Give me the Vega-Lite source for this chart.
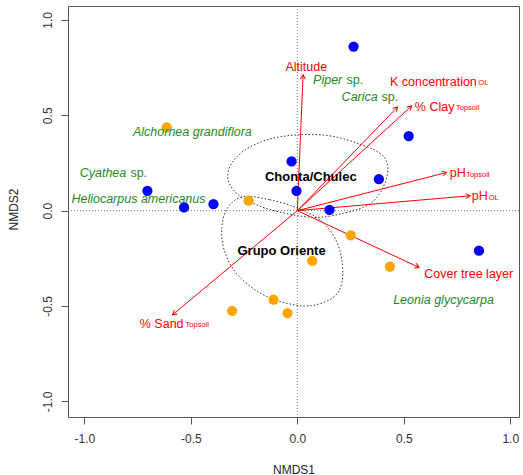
{
  "$schema": "https://vega.github.io/schema/vega-lite/v6.json",
  "width": 451,
  "height": 411,
  "autosize": {"type": "none"},
  "padding": {"left": 68, "top": 6, "right": 4, "bottom": 58},
  "background": "white",
  "config": {
    "view": {"stroke": "#555", "strokeWidth": 1},
    "font": "Liberation Sans",
    "axis": {"grid": false, "domain": false, "tickSize": 7, "tickColor": "#555", "labelFontSize": 12, "labelColor": "#333", "titleFontSize": 12, "titleFontWeight": "normal", "titleColor": "#222", "labelOverlap": false, "labelFlush": false}
  },
  "datasets": {
    "sites": [
      {"group": "Chonta/Chulec", "x": 0.264, "y": 0.860},
      {"group": "Chonta/Chulec", "x": 0.523, "y": 0.391},
      {"group": "Chonta/Chulec", "x": -0.027, "y": 0.258},
      {"group": "Chonta/Chulec", "x": 0.383, "y": 0.165},
      {"group": "Chonta/Chulec", "x": -0.004, "y": 0.104},
      {"group": "Chonta/Chulec", "x": 0.151, "y": 0.004},
      {"group": "Chonta/Chulec", "x": -0.704, "y": 0.104},
      {"group": "Chonta/Chulec", "x": -0.532, "y": 0.017},
      {"group": "Chonta/Chulec", "x": -0.394, "y": 0.034},
      {"group": "Chonta/Chulec", "x": 0.853, "y": -0.210},
      {"group": "Grupo Oriente", "x": -0.613, "y": 0.436},
      {"group": "Grupo Oriente", "x": -0.229, "y": 0.052},
      {"group": "Grupo Oriente", "x": 0.251, "y": -0.130},
      {"group": "Grupo Oriente", "x": 0.070, "y": -0.264},
      {"group": "Grupo Oriente", "x": 0.435, "y": -0.293},
      {"group": "Grupo Oriente", "x": -0.112, "y": -0.467},
      {"group": "Grupo Oriente", "x": -0.306, "y": -0.525},
      {"group": "Grupo Oriente", "x": -0.046, "y": -0.537}
    ],
    "vectors": [
      {"var": "Altitude", "x": 0.027, "y": 0.712},
      {"var": "K concentration OL", "x": 0.471, "y": 0.544},
      {"var": "% Clay Topsoil", "x": 0.537, "y": 0.549},
      {"var": "pH Topsoil", "x": 0.701, "y": 0.200},
      {"var": "pH OL", "x": 0.811, "y": 0.078},
      {"var": "Cover tree layer", "x": 0.572, "y": -0.298},
      {"var": "% Sand Topsoil", "x": -0.586, "y": -0.546}
    ],
    "ellipses": [
      {"group": "Chonta/Chulec", "i": 1, "x": -0.002, "y": 0.397},
      {"group": "Chonta/Chulec", "i": 2, "x": 0.153, "y": 0.392},
      {"group": "Chonta/Chulec", "i": 3, "x": 0.303, "y": 0.345},
      {"group": "Chonta/Chulec", "i": 4, "x": 0.397, "y": 0.293},
      {"group": "Chonta/Chulec", "i": 5, "x": 0.425, "y": 0.225},
      {"group": "Chonta/Chulec", "i": 6, "x": 0.402, "y": 0.120},
      {"group": "Chonta/Chulec", "i": 7, "x": 0.341, "y": 0.036},
      {"group": "Chonta/Chulec", "i": 8, "x": 0.223, "y": -0.012},
      {"group": "Chonta/Chulec", "i": 9, "x": 0.068, "y": -0.035},
      {"group": "Chonta/Chulec", "i": 10, "x": -0.129, "y": 0.006},
      {"group": "Chonta/Chulec", "i": 11, "x": -0.262, "y": 0.070},
      {"group": "Chonta/Chulec", "i": 12, "x": -0.322, "y": 0.150},
      {"group": "Chonta/Chulec", "i": 13, "x": -0.315, "y": 0.235},
      {"group": "Chonta/Chulec", "i": 14, "x": -0.250, "y": 0.315},
      {"group": "Chonta/Chulec", "i": 15, "x": -0.140, "y": 0.372},
      {"group": "Grupo Oriente", "i": 1, "x": -0.256, "y": 0.073},
      {"group": "Grupo Oriente", "i": 2, "x": -0.129, "y": 0.057},
      {"group": "Grupo Oriente", "i": 3, "x": -0.002, "y": 0.015},
      {"group": "Grupo Oriente", "i": 4, "x": 0.106, "y": -0.048},
      {"group": "Grupo Oriente", "i": 5, "x": 0.176, "y": -0.142},
      {"group": "Grupo Oriente", "i": 6, "x": 0.209, "y": -0.258},
      {"group": "Grupo Oriente", "i": 7, "x": 0.209, "y": -0.378},
      {"group": "Grupo Oriente", "i": 8, "x": 0.167, "y": -0.457},
      {"group": "Grupo Oriente", "i": 9, "x": 0.059, "y": -0.499},
      {"group": "Grupo Oriente", "i": 10, "x": -0.059, "y": -0.483},
      {"group": "Grupo Oriente", "i": 11, "x": -0.176, "y": -0.431},
      {"group": "Grupo Oriente", "i": 12, "x": -0.280, "y": -0.337},
      {"group": "Grupo Oriente", "i": 13, "x": -0.341, "y": -0.216},
      {"group": "Grupo Oriente", "i": 14, "x": -0.355, "y": -0.090},
      {"group": "Grupo Oriente", "i": 15, "x": -0.327, "y": 0.015}
    ],
    "labels": [
      {"kind": "envc", "label": "Altitude", "x": 0.042, "y": 0.754},
      {"kind": "envc", "label": "Cover tree layer", "x": 0.805, "y": -0.331},
      {"kind": "envl", "label": "K concentration", "x": 0.435, "y": 0.677},
      {"kind": "envl", "label": "% Clay", "x": 0.552, "y": 0.546},
      {"kind": "envl", "label": "pH", "x": 0.716, "y": 0.197},
      {"kind": "envl", "label": "pH", "x": 0.819, "y": 0.078},
      {"kind": "envl", "label": "% Sand", "x": -0.740, "y": -0.594},
      {"kind": "sub", "label": "OL", "x": 0.850, "y": 0.668},
      {"kind": "sub", "label": "Topsoil", "x": 0.745, "y": 0.537},
      {"kind": "sub", "label": "Topsoil", "x": 0.793, "y": 0.188},
      {"kind": "sub", "label": "OL", "x": 0.899, "y": 0.067},
      {"kind": "sub", "label": "Topsoil", "x": -0.525, "y": -0.600},
      {"kind": "spi", "label": "Piper", "x": 0.074, "y": 0.686},
      {"kind": "spi", "label": "Carica", "x": 0.208, "y": 0.598},
      {"kind": "spi", "label": "Alchornea grandiflora", "x": -0.772, "y": 0.412},
      {"kind": "spi", "label": "Cyathea", "x": -1.022, "y": 0.197},
      {"kind": "spi", "label": "Heliocarpus americanus", "x": -1.061, "y": 0.061},
      {"kind": "spi", "label": "Leonia glycycarpa", "x": 0.450, "y": -0.471},
      {"kind": "spr", "label": "sp.", "x": 0.231, "y": 0.686},
      {"kind": "spr", "label": "sp.", "x": 0.395, "y": 0.598},
      {"kind": "spr", "label": "sp.", "x": -0.784, "y": 0.197},
      {"kind": "grp", "label": "Chonta/Chulec", "x": 0.063, "y": 0.176},
      {"kind": "grp", "label": "Grupo Oriente", "x": -0.074, "y": -0.209}
    ]
  },
  "layer": [
    {
      "data": {"values": [{"v": 0}]},
      "mark": {"type": "rule", "color": "#777", "strokeDash": [1, 2], "strokeWidth": 1},
      "encoding": {
        "y": {"datum": 0, "type": "quantitative", "scale": {"domain": [-1.082, 1.073], "nice": false, "zero": false},
          "axis": {"values": [-1, -0.5, 0, 0.5, 1], "title": "NMDS2", "labelAngle": -90, "labelAlign": "center", "labelBaseline": "bottom", "labelPadding": 7,
            "labelExpr": "datum.value < 0 ? '-' + format(-datum.value, '.1f') : format(datum.value, '.1f')",
            "titleAngle": -90, "titleX": -55, "titleY": 203, "titleAlign": "center", "titleBaseline": "middle"}}
      }
    },
    {
      "data": {"values": [{"v": 0}]},
      "mark": {"type": "rule", "color": "#777", "strokeDash": [1, 2], "strokeWidth": 1},
      "encoding": {
        "x": {"datum": 0, "type": "quantitative", "scale": {"domain": [-1.077, 1.041], "nice": false, "zero": false},
          "axis": {"values": [-1, -0.5, 0, 0.5, 1], "title": "NMDS1", "labelPadding": 9, "labelBaseline": "top",
            "labelExpr": "datum.value < 0 ? '-' + format(-datum.value, '.1f') : format(datum.value, '.1f')",
            "titleY": 52, "titleBaseline": "middle"}}
      }
    },
    {
      "data": {"name": "ellipses"},
      "mark": {"type": "line", "interpolate": "cardinal-closed", "color": "#333", "strokeDash": [1.5, 2], "strokeWidth": 1},
      "encoding": {
        "x": {"field": "x", "type": "quantitative"},
        "y": {"field": "y", "type": "quantitative"},
        "detail": {"field": "group", "type": "nominal"},
        "order": {"field": "i", "type": "quantitative"}
      }
    },
    {
      "data": {"name": "vectors"},
      "mark": {"type": "rule", "color": "#FF0000", "strokeWidth": 1},
      "encoding": {
        "x": {"field": "x", "type": "quantitative"},
        "y": {"field": "y", "type": "quantitative"},
        "x2": {"datum": 0},
        "y2": {"datum": 0}
      }
    },
    {
      "data": {"name": "vectors"},
      "transform": [{"calculate": "atan2(datum.x * 212.8, datum.y * 190.85) * 180 / PI", "as": "ang"}],
      "mark": {"type": "point", "filled": false, "color": "#FF0000", "strokeWidth": 1, "opacity": 1, "shape": "M -0.5 0.87 L 0 0 L 0.5 0.87", "size": 100},
      "encoding": {
        "x": {"field": "x", "type": "quantitative"},
        "y": {"field": "y", "type": "quantitative"},
        "angle": {"field": "ang", "type": "quantitative", "scale": null}
      }
    },
    {
      "data": {"name": "sites"},
      "mark": {"type": "circle", "size": 105, "opacity": 1},
      "encoding": {
        "x": {"field": "x", "type": "quantitative"},
        "y": {"field": "y", "type": "quantitative"},
        "color": {"field": "group", "type": "nominal", "scale": {"domain": ["Chonta/Chulec", "Grupo Oriente"], "range": ["#0000FF", "#FFA500"]}, "legend": null}
      }
    },
    {
      "data": {"name": "labels"},
      "transform": [{"filter": "datum.kind == 'envc'"}],
      "mark": {"type": "text", "color": "#FF0000", "fontSize": 12.5, "align": "center", "baseline": "middle"},
      "encoding": {"x": {"field": "x", "type": "quantitative"}, "y": {"field": "y", "type": "quantitative"}, "text": {"field": "label", "type": "nominal"}}
    },
    {
      "data": {"name": "labels"},
      "transform": [{"filter": "datum.kind == 'envl'"}],
      "mark": {"type": "text", "color": "#FF0000", "fontSize": 12.5, "align": "left", "baseline": "middle"},
      "encoding": {"x": {"field": "x", "type": "quantitative"}, "y": {"field": "y", "type": "quantitative"}, "text": {"field": "label", "type": "nominal"}}
    },
    {
      "data": {"name": "labels"},
      "transform": [{"filter": "datum.kind == 'sub'"}],
      "mark": {"type": "text", "color": "#FF0000", "fontSize": 7.5, "align": "left", "baseline": "middle"},
      "encoding": {"x": {"field": "x", "type": "quantitative"}, "y": {"field": "y", "type": "quantitative"}, "text": {"field": "label", "type": "nominal"}}
    },
    {
      "data": {"name": "labels"},
      "transform": [{"filter": "datum.kind == 'spi'"}],
      "mark": {"type": "text", "color": "#1E8A1E", "fontSize": 12.5, "fontStyle": "italic", "align": "left", "baseline": "middle"},
      "encoding": {"x": {"field": "x", "type": "quantitative"}, "y": {"field": "y", "type": "quantitative"}, "text": {"field": "label", "type": "nominal"}}
    },
    {
      "data": {"name": "labels"},
      "transform": [{"filter": "datum.kind == 'spr'"}],
      "mark": {"type": "text", "color": "#1E8A1E", "fontSize": 12.5, "align": "left", "baseline": "middle"},
      "encoding": {"x": {"field": "x", "type": "quantitative"}, "y": {"field": "y", "type": "quantitative"}, "text": {"field": "label", "type": "nominal"}}
    },
    {
      "data": {"name": "labels"},
      "transform": [{"filter": "datum.kind == 'grp'"}],
      "mark": {"type": "text", "color": "#000000", "fontSize": 13, "fontWeight": "bold", "align": "center", "baseline": "middle"},
      "encoding": {"x": {"field": "x", "type": "quantitative"}, "y": {"field": "y", "type": "quantitative"}, "text": {"field": "label", "type": "nominal"}}
    }
  ]
}
